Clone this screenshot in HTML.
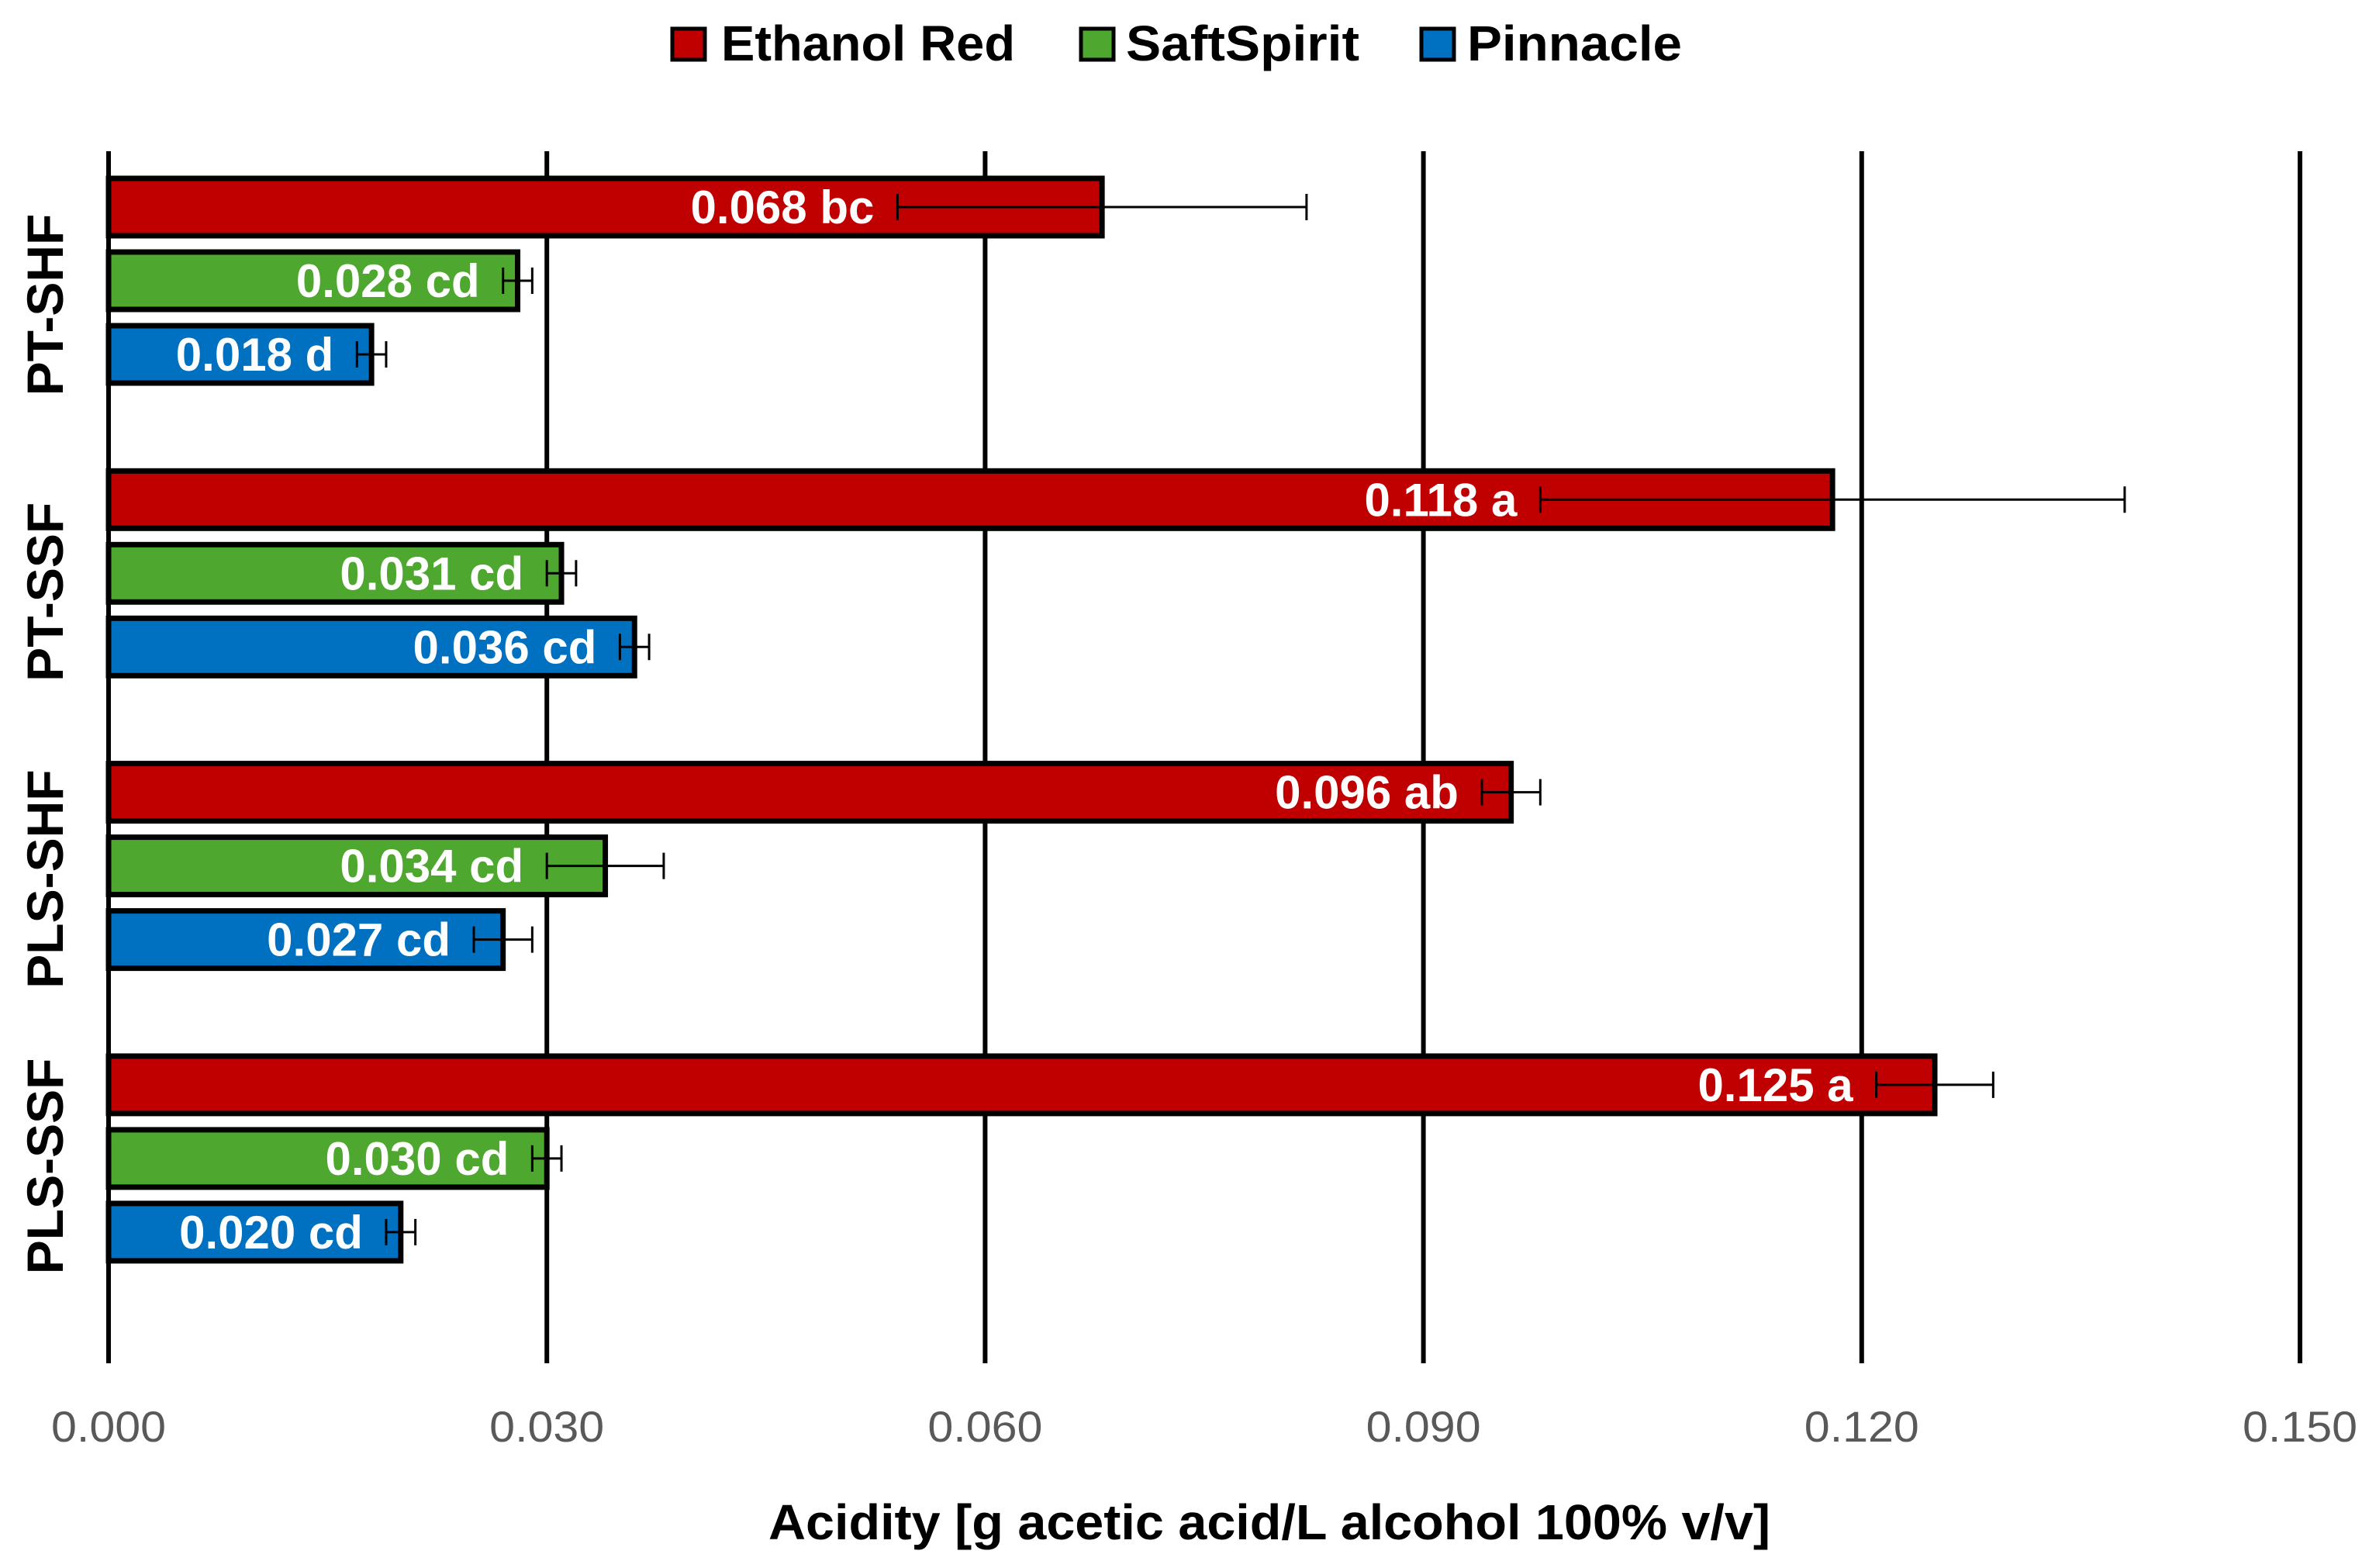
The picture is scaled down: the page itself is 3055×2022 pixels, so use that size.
<!DOCTYPE html>
<html><head><meta charset="utf-8"><style>
html,body{margin:0;padding:0;background:#fff;width:3055px;height:2022px;overflow:hidden}
svg{display:block}
text{font-family:"Liberation Sans",sans-serif}
</style></head><body>
<svg id="chart" width="3055" height="2022" viewBox="0 0 3055 2022" xmlns="http://www.w3.org/2000/svg">
<g id="grid"></g>
<g id="bars"></g>
<g id="ticks"></g>
<g id="cats"></g>
<text x="1637" y="1985" text-anchor="middle" font-size="64" font-weight="bold" textLength="1292" lengthAdjust="spacingAndGlyphs">Acidity [g acetic acid/L alcohol 100% v/v]</text>
<g>
<g><rect x="867" y="37" width="42" height="40" fill="#C00000" stroke="#000" stroke-width="5"/><text x="930" y="78" font-size="64" font-weight="bold" textLength="379" lengthAdjust="spacingAndGlyphs">Ethanol Red</text></g>
<g><rect x="1394" y="37" width="42" height="40" fill="#4EA72E" stroke="#000" stroke-width="5"/><text x="1452" y="78" font-size="64" font-weight="bold" textLength="301" lengthAdjust="spacingAndGlyphs">SaftSpirit</text></g>
<g><rect x="1833" y="37" width="42" height="40" fill="#0070C0" stroke="#000" stroke-width="5"/><text x="1892" y="78" font-size="64" font-weight="bold" textLength="277" lengthAdjust="spacingAndGlyphs">Pinnacle</text></g>
</g>
</svg>
<script>
const categories = ["PT-SHF","PT-SSF","PLS-SHF","PLS-SSF"];
const seriesNames = ["Ethanol Red","SaftSpirit","Pinnacle"];
const ethanolRed = [0.068,0.118,0.096,0.125];
const saftSpirit = [0.028,0.031,0.034,0.030];
const pinnacle = [0.018,0.036,0.027,0.020];
const ethanolRedErr = [0.014,0.020,0.002,0.004];
const saftSpiritErr = [0.001,0.001,0.004,0.001];
const pinnacleErr = [0.001,0.001,0.002,0.001];
const ethanolRedLetters = ["bc","a","ab","a"];
const saftSpiritLetters = ["cd","cd","cd","cd"];
const pinnacleLetters = ["d","cd","cd","cd"];
const tickValues = [0,0.03,0.06,0.09,0.12,0.15];
const tickLabels = ["0.000","0.030","0.060","0.090","0.120","0.150"];

const NS="http://www.w3.org/2000/svg";
const X0=140, X1=2966, XMAX=0.15, PT=195, PB=1758;
const GTOP=230, GPITCH=377.3, BPITCH=95, BH=74;
function xs(v){return X0+(X1-X0)*v/XMAX;}
function mk(tag,attrs,parent){const e=document.createElementNS(NS,tag);for(const k in attrs)e.setAttribute(k,attrs[k]);parent.appendChild(e);return e;}
const colors=["#C00000","#4EA72E","#0070C0"];
const vals=[ethanolRed,saftSpirit,pinnacle];
const errs=[ethanolRedErr,saftSpiritErr,pinnacleErr];
const lets=[ethanolRedLetters,saftSpiritLetters,pinnacleLetters];
const keys=["ethanol-red","saftspirit","pinnacle"];
const grid=document.getElementById('grid'),bars=document.getElementById('bars'),ticks=document.getElementById('ticks'),cats=document.getElementById('cats');
tickValues.forEach((t,i)=>{
  const l=mk('line',{x1:xs(t),x2:xs(t),y1:PT,y2:PB,stroke:'#000','stroke-width':6},grid);
  
  
  const tx=mk('text',{x:xs(t),y:1859,'text-anchor':'middle','font-size':56,fill:'#595959',textLength:148,lengthAdjust:'spacingAndGlyphs'},ticks);
  tx.textContent=tickLabels[i];
  
  
});
categories.forEach((c,ci)=>{
  const gt=GTOP+GPITCH*ci;
  const cy=gt+131+Math.round(32-ci*7);
  const ct=mk('text',{x:0,y:0,transform:`translate(81 ${cy}) rotate(-90)`,'text-anchor':'middle','font-size':66,'font-weight':'bold'},cats);
  ct.textContent=c;
  
  
  for(let s=0;s<3;s++){
    const v=vals[s][ci], e=errs[s][ci];
    const y=gt+BPITCH*s;
    const r=mk('rect',{x:X0,y:y,width:xs(v)-X0,height:BH,fill:colors[s],stroke:'#000','stroke-width':7},bars);
    
    
    const cy2=y+BH/2, lo=xs(v-e), hi=xs(v+e);
    const eb=mk('path',{d:`M${lo} ${cy2}H${hi}M${lo} ${cy2-17}V${cy2+17}M${hi} ${cy2-17}V${cy2+17}`,stroke:'#000','stroke-width':3,fill:'none'},bars);
    
    
    const lb=mk('text',{x:lo-30,y:cy2+21,'text-anchor':'end','font-size':60,'font-weight':'bold',fill:'#fff'},bars);
    lb.textContent=v.toFixed(3)+' '+lets[s][ci];
    
    
  }
});
</script>
</body></html>
